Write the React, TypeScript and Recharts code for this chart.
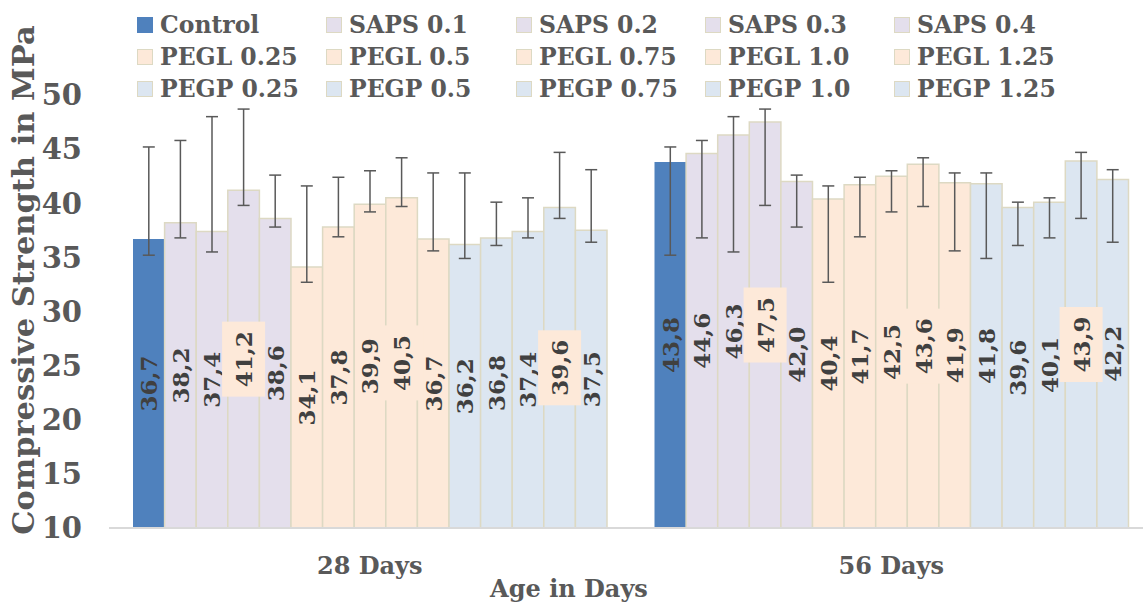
import React from 'react';
import { BarChart, Bar, XAxis, YAxis, ErrorBar, LabelList, Legend, Label } from 'recharts';

const categories = ['28 Days', '56 Days'];
const seriesNames = [
  'Control', 'SAPS 0.1', 'SAPS 0.2', 'SAPS 0.3', 'SAPS 0.4',
  'PEGL 0.25', 'PEGL 0.5', 'PEGL 0.75', 'PEGL 1.0', 'PEGL 1.25',
  'PEGP 0.25', 'PEGP 0.5', 'PEGP 0.75', 'PEGP 1.0', 'PEGP 1.25',
];
const values28 = [36.7, 38.2, 37.4, 41.2, 38.6, 34.1, 37.8, 39.9, 40.5, 36.7, 36.2, 36.8, 37.4, 39.6, 37.5];
const values56 = [43.8, 44.6, 46.3, 47.5, 42.0, 40.4, 41.7, 42.5, 43.6, 41.9, 41.8, 39.6, 40.1, 43.9, 42.2];
// error bar end points (same in both groups, as drawn in the source)
const errorLow = [35.2, 36.8, 35.5, 39.8, 37.8, 32.7, 36.9, 39.2, 39.7, 35.6, 34.9, 36.1, 36.8, 38.6, 36.4];
const errorHigh = [45.2, 45.8, 48.0, 48.7, 42.6, 41.6, 42.4, 43.0, 44.2, 42.8, 42.8, 40.1, 40.5, 44.7, 43.1];
const yTicks = [10, 15, 20, 25, 30, 35, 40, 45, 50];

const BLUE = '#4F81BD';
const LAV = '#E4DFEC';
const PEACH = '#FDE9D9';
const LBLUE = '#DCE6F1';
const BORDER = '#DDD9C3';
const seriesFill = [BLUE, LAV, LAV, LAV, LAV, PEACH, PEACH, PEACH, PEACH, PEACH, LBLUE, LBLUE, LBLUE, LBLUE, LBLUE];
const labelBoxed = [false, false, false, true, false, false, false, false, true, false, false, false, false, true, false];

const FONT = '"DejaVu Serif", serif';
const GREY = '#595959';

const data = categories.map((c, ci) => {
  const row: any = { category: c };
  seriesNames.forEach((_, i) => {
    const v = ci === 0 ? values28[i] : values56[i];
    row[`s${i}`] = v;
    row[`e${i}`] = [v - errorLow[i], errorHigh[i] - v];
  });
  return row;
});

const makeLabel = (boxed: boolean) => (props: any) => {
  const { x, y, width, height, value } = props;
  const cx = Number(x) + Number(width) / 2;
  const cy = Number(y) + Number(height) / 2;
  const txt = Number(value).toFixed(1).replace('.', ',');
  return (
    <g transform={`rotate(-90 ${cx} ${cy})`}>
      {boxed && <rect x={cx - 37.5} y={cy - 21.5} width={75} height={43} fill={PEACH} />}
      <text x={cx} y={cy} textAnchor="middle" dominantBaseline="central" fontFamily={FONT} fontWeight="bold" fontSize={23} fill="#404040">
        {txt}
      </text>
    </g>
  );
};

const legendCols = [137, 326, 516, 705, 894];
const renderLegend = () => (
  <div style={{ position: 'relative', width: 1143, height: 105 }}>
    {seriesNames.map((n, i) => {
      const col = i % 5;
      const row = Math.floor(i / 5);
      return (
        <div key={n} style={{ position: 'absolute', left: legendCols[col], top: 10 + row * 32, height: 30, display: 'flex', alignItems: 'center', whiteSpace: 'nowrap' }}>
          <span style={{ display: 'inline-block', width: 14, height: 14, background: seriesFill[i], border: i === 0 ? `1px solid ${BLUE}` : `1.5px solid ${BORDER}`, marginRight: 7 }} />
          <span style={{ fontFamily: FONT, fontWeight: 'bold', fontSize: 23.5, color: GREY }}>{n}</span>
        </div>
      );
    })}
  </div>
);

export default function App() {
  return (
    <div style={{ position: 'absolute', left: 0, top: 0, width: 1143, height: 603, overflow: 'hidden', background: '#fff' }}>
      <BarChart width={1160} height={603} data={data} margin={{ top: 95, right: 8, left: 0, bottom: 0 }} barSize={31.6} barGap={0}>
        <XAxis
          dataKey="category"
          axisLine={{ stroke: '#D9D9D9', strokeWidth: 2 }}
          tickLine={false}
          tickSize={6}
          tickMargin={23}
          height={75}
          tick={{ fill: GREY, fontSize: 24, fontWeight: 'bold', fontFamily: FONT }}
        >
          <Label
            content={() => (
              <text x={569} y={597} textAnchor="middle" fontFamily={FONT} fontWeight="bold" fontSize={24} fill={GREY}>
                Age in Days
              </text>
            )}
          />
        </XAxis>
        <YAxis
          domain={[10, 50]}
          ticks={yTicks}
          width={109}
          axisLine={false}
          tickLine={false}
          tickSize={6}
          tickMargin={21}
          tick={{ fill: GREY, fontSize: 29, fontWeight: 'bold', fontFamily: FONT }}
        >
          <Label
            content={() => (
              <text x={23} y={280} transform="rotate(-90 23 280)" textAnchor="middle" dominantBaseline="central" fontFamily={FONT} fontWeight="bold" fontSize={30.5} fill={GREY}>
                Compressive Strength in MPa
              </text>
            )}
          />
        </YAxis>
        <Legend layout="horizontal" verticalAlign="middle" align="center" wrapperStyle={{ top: 0, left: 0, width: 1143 }} content={renderLegend} />
        {seriesNames.map((n, i) => (
          <Bar
            key={n}
            dataKey={`s${i}`}
            name={n}
            fill={seriesFill[i]}
            stroke={i === 0 ? 'none' : BORDER}
            strokeWidth={1.5}
            isAnimationActive={false}
          >
            <ErrorBar dataKey={`e${i}`} width={6} strokeWidth={1.5} stroke={GREY} direction="y" />
            <LabelList dataKey={`s${i}`} content={makeLabel(labelBoxed[i])} />
          </Bar>
        ))}
      </BarChart>
    </div>
  );
}
